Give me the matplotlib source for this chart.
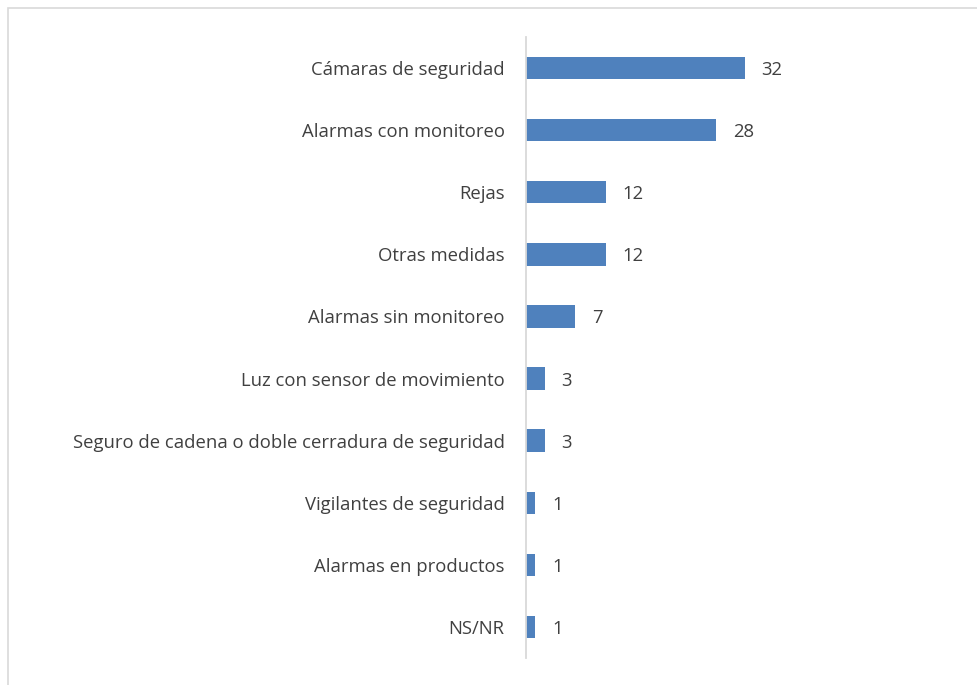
import matplotlib
matplotlib.use("Agg")
import matplotlib.pyplot as plt
from matplotlib.patches import Rectangle

categories = [
    "Cámaras de seguridad",
    "Alarmas con monitoreo",
    "Rejas",
    "Otras medidas",
    "Alarmas sin monitoreo",
    "Luz con sensor de movimiento",
    "Seguro de cadena o doble cerradura de seguridad",
    "Vigilantes de seguridad",
    "Alarmas en productos",
    "NS/NR",
]
# bar lengths (labels shown rounded)
values = [32.0, 27.9, 11.7, 11.7, 7.3, 2.8, 2.8, 1.4, 1.4, 1.4]

plt.rcParams['font.family'] = ['Open Sans', 'DejaVu Sans']

W, H = 977, 685
fig = plt.figure(figsize=(W / 100, H / 100), dpi=100)
fig.patch.set_facecolor("white")

# outer border (left/top visible)
fig.add_artist(Rectangle((8 / W, -0.1), 1.2, (H - 8) / H + 0.1, transform=fig.transFigure,
                         fill=False, edgecolor="#D9D9D9", linewidth=1.2))

x0 = 525.5
scale = 6.844  # px per unit
ax = fig.add_axes([x0 / W, 1 - 658 / H, (958 - x0) / W, (658 - 37) / H])
xmax = (958 - x0) / scale
y = list(range(len(categories)))
ax.barh(y, values, height=0.36, color="#4F81BD", edgecolor="none")
ax.set_ylim(len(categories) - 0.5, -0.5)
ax.set_xlim(0, xmax)
ax.set_yticks(y)
ax.set_yticklabels(categories, fontsize=13.35, color="#404040")
ax.tick_params(axis="y", length=0, pad=15)
ax.set_xticks([])
for s in ["top", "right", "bottom"]:
    ax.spines[s].set_visible(False)
ax.spines["left"].set_color("#D9D9D9")
ax.spines["left"].set_linewidth(1.3)
ax.set_facecolor("none")

for yi, v in zip(y, values):
    ax.annotate(f"{v:.0f}", (v, yi), xytext=(17, 0), textcoords="offset pixels",
                va="center_baseline", ha="left", fontsize=13.35, color="#404040")

fig.savefig("out.png", dpi=100)
